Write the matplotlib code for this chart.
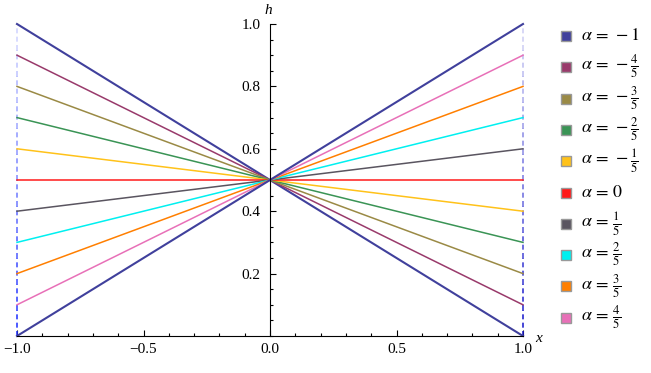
import numpy as np
import matplotlib
matplotlib.use("Agg")
import matplotlib.pyplot as plt
from matplotlib.patches import Rectangle

plt.rcParams['font.family'] = ['Liberation Serif', 'DejaVu Serif']
plt.rcParams['mathtext.fontset'] = 'stix'

# h = 1/2 + alpha*x/2, alpha = -1 ... 1
alphas = [-1, -0.8, -0.6, -0.4, -0.2, 0, 0.2, 0.4, 0.6, 0.8, 1]
colors = ['#40409c', '#993a6b', '#9a8a45', '#3a9455', '#ffc21a', '#ff1a1a',
          '#5a5560', '#00f0f0', '#ff7f00', '#e870b8', '#40409c']
labels = [r'$\alpha\,=\,-1$', r'$\alpha\,=\,-\frac{4}{5}$', r'$\alpha\,=\,-\frac{3}{5}$',
          r'$\alpha\,=\,-\frac{2}{5}$', r'$\alpha\,=\,-\frac{1}{5}$', r'$\alpha\,=\,0$',
          r'$\alpha\,=\,\frac{1}{5}$', r'$\alpha\,=\,\frac{2}{5}$', r'$\alpha\,=\,\frac{3}{5}$',
          r'$\alpha\,=\,\frac{4}{5}$']
x = np.array([-1.0, 1.0])

W, H = 651, 373
fig = plt.figure(figsize=(W/100, H/100), dpi=100)
ax = fig.add_axes([17/W, (H-336)/H, 506/W, 312/H])

# dashed edges at x=-1 and x=1, fading toward the top
nseg = 12
for xe, dark in [(-1, '#2233ff'), (1, '#1a1acc')]:
    for k in range(nseg):
        y0, y1 = k/nseg, (k+1)/nseg
        a = 0.95 - 0.75*k/(nseg-1)
        ax.plot([xe, xe], [y0, y1], ls=(0, (3, 2)), color=dark, alpha=a, lw=1.2, clip_on=False)

for a, c in zip(alphas, colors):
    lw = 1.5 if abs(a) == 1 else 1.1
    ax.plot(x, 0.5 + a*x/2, color=c, lw=lw, clip_on=False)

ax.set_xlim(-1, 1)
ax.set_ylim(0, 1)
ax.spines['left'].set_position(('data', 0))
ax.spines['bottom'].set_position(('data', 0))
ax.spines['top'].set_visible(False)
ax.spines['right'].set_visible(False)
ax.set_xticks([-1, -0.5, 0, 0.5, 1])
ax.set_xticklabels(['\u22121.0', '\u22120.5', '0.0', '0.5', '1.0'])
ax.set_xticks(np.arange(-1, 1.01, 0.1), minor=True)
ax.set_yticks([0.2, 0.4, 0.6, 0.8, 1.0])
ax.set_yticklabels(['0.2', '0.4', '0.6', '0.8', '1.0'])
ax.set_yticks(np.arange(0, 1.01, 0.05), minor=True)
ax.tick_params(which='both', direction='in', labelsize=11, width=0.8)
ax.tick_params(which='major', length=4)
ax.tick_params(which='minor', length=2.2)
ax.tick_params(axis='y', pad=7)
ax.tick_params(axis='x', pad=5)
ax.set_facecolor('none')

fig.text(535/W, 1-339/H, 'x', style='italic', fontsize=11, va='center')
fig.text(268/W, 1-10/H, 'h', style='italic', fontsize=11, ha='center', va='center')

# legend
for i, (lab, c) in enumerate(zip(labels, colors)):
    yc = 36 + i*31.3
    fig.patches.append(Rectangle((561/W, 1-(yc+5)/H), 10/W, 10/H, transform=fig.transFigure,
                                 facecolor=c, edgecolor='#999999', lw=1))
    fig.text(581/W, 1-yc/H, lab, fontsize=13, va='center')

fig.savefig('out.png', dpi=100)
